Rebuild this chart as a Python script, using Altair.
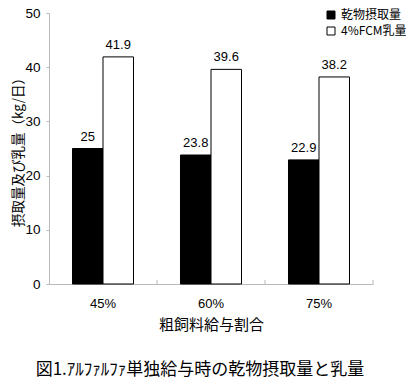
import altair as alt
import pandas as pd

categories = ["45%", "60%", "75%"]
series = ["乾物摂取量", "4%FCM乳量"]
dm_intake = [25, 23.8, 22.9]
fcm_milk = [41.9, 39.6, 38.2]
y_ticks = [0, 10, 20, 30, 40, 50]

rows = []
for c, a, b in zip(categories, dm_intake, fcm_milk):
    rows.append({"cat": c, "series": series[0], "value": a, "label": f"{a:g}"})
    rows.append({"cat": c, "series": series[1], "value": b, "label": f"{b:g}"})
df = pd.DataFrame(rows)
cat_df = pd.DataFrame({"cat": categories})

JP = "Noto Sans CJK JP"
NUM = "Liberation Sans"
AXIS_GRAY = "#bbbbbb"

x = alt.X(
    "cat:N",
    sort=categories,
    scale=alt.Scale(paddingInner=0, paddingOuter=0),
    axis=alt.Axis(
        title="粗飼料給与割合",
        titleFont=JP,
        titleFontSize=15,
        titleFontWeight="normal",
        titleColor="#000",
        titlePadding=7,
        labelAngle=0,
        labelFont=NUM,
        labelFontSize=13,
        labelColor="#000",
        labelPadding=13,
        domainColor=AXIS_GRAY,
        ticks=False,
    ),
)
xoff = alt.XOffset("series:N", sort=series, scale=alt.Scale(paddingInner=0, paddingOuter=0.77))
y = alt.Y(
    "value:Q",
    scale=alt.Scale(domain=[0, 50], nice=False),
    axis=alt.Axis(
        values=y_ticks,
        grid=False,
        title="摂取量及び乳量（kg/日）",
        titleFont=JP,
        titleFontSize=13.5,
        titleFontWeight="normal",
        titleColor="#000",
        titleX=-31,
        titleBaseline="middle",
        labelFont=NUM,
        labelFontSize=13.5,
        labelColor="#000",
        labelPadding=6,
        domainColor=AXIS_GRAY,
        tickColor=AXIS_GRAY,
        tickSize=3,
    ),
)

bars = alt.Chart(df).mark_bar(stroke="black", strokeWidth=1).encode(
    x=x,
    xOffset=xoff,
    y=y,
    fill=alt.Fill(
        "series:N",
        sort=series,
        scale=alt.Scale(domain=series, range=["black", "white"]),
        legend=alt.Legend(
            title=None,
            orient="none",
            legendX=276,
            legendY=-4,
            symbolType="square",
            symbolSize=64,
            symbolStrokeColor="black",
            symbolStrokeWidth=1,
            labelFont=JP,
            labelFontSize=12,
            labelColor="#000",
            rowPadding=4,
            labelOffset=4,
            labelLimit=80,
        ),
    ),
)

labels = alt.Chart(df).mark_text(baseline="bottom", dy=-5, font=NUM, fontSize=13, color="black").encode(
    x=alt.X("cat:N", sort=categories),
    xOffset=alt.XOffset("series:N", sort=series),
    y="value:Q",
    text="label:N",
)

xticks = alt.Chart(cat_df).mark_rule(color=AXIS_GRAY, strokeWidth=1).encode(
    x=alt.X("cat:N", sort=categories, bandPosition=1),
    y=alt.value(267),
    y2=alt.value(271),
)

chart = (
    alt.layer(bars, labels, xticks)
    .properties(
        width=324,
        height=271,
        autosize=alt.AutoSizeParams(type="none"),
        padding={"left": 41, "top": 5, "right": 33, "bottom": 96},
        title=alt.TitleParams(
            "図1.ｱﾙﾌｧﾙﾌｧ単独給与時の乾物摂取量と乳量",
            orient="bottom",
            font=JP,
            fontSize=17,
            fontWeight="normal",
            color="#000",
            offset=30,
            dx=-11,
            anchor="middle",
        ),
    )
    .configure_view(stroke=None)
)

chart.save("out.html", embed_options={"renderer": "svg", "actions": False})
